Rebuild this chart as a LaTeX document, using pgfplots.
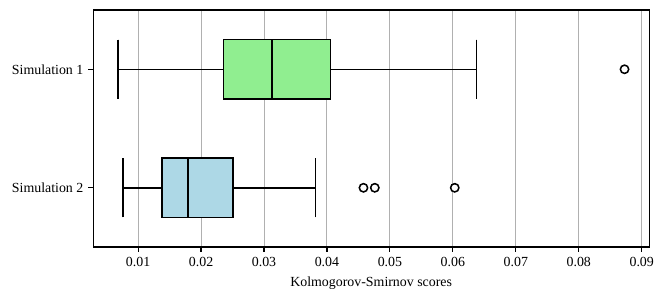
\documentclass[border=0pt]{standalone}
\usepackage{fontspec}
\setmainfont{Liberation Serif}
\usepackage{pgfplots}
\pgfplotsset{compat=1.18}
\usepgfplotslibrary{statistics}
\definecolor{lgreen}{HTML}{90EE90}
\definecolor{lblue}{HTML}{ADD8E6}
\definecolor{gridgray}{HTML}{B0B0B0}
\begin{document}
\begin{tikzpicture}
\begin{axis}[
  at={(0,0)}, anchor=south west,
  scale only axis,
  width=400.3pt, height=170.6pt,
  xmin=0.00285, xmax=0.0912,
  ymin=0.5, ymax=2.5, y dir=reverse,
  ytick={1,2}, yticklabels={Simulation 1, Simulation 2},
  xtick={0.01,0.02,0.03,0.04,0.05,0.06,0.07,0.08,0.09},
  scaled x ticks=false,
  xticklabel style={/pgf/number format/.cd, fixed, fixed zerofill, precision=2},
  /pgf/number format/assume math mode=true,
  xmajorgrids, grid style={gridgray, line width=0.7pt},
  tick align=outside, major tick length=3.5pt,
  xtick pos=bottom, ytick pos=left,
  tick style={black, line width=0.8pt},
  axis line style={line width=0.8pt},
  xlabel={Kolmogorov-Smirnov scores},
  xlabel style={yshift=-1pt},
  font=\fontsize{10pt}{12pt}\selectfont,
  boxplot/box extend=0.5,
  boxplot/whisker extend=0.5,
  boxplot/draw direction=x,
]
\addplot[boxplot prepared={lower whisker=0.00682, lower quartile=0.02358, median=0.03126, upper quartile=0.04053, upper whisker=0.06374, draw position=1,
    every whisker/.style={line width=1.1pt, black},
    every box/.style={line width=1.1pt, draw=black, fill=lgreen},
    every median/.style={line width=1.1pt, black}},
  draw=black, line width=1.1pt, fill=lgreen,
  mark=*, mark size=3pt, mark options={draw=black, fill=white, line width=1.1pt}]
  table[row sep=\\, y index=0] {0.08727\\};
\addplot[boxplot prepared={lower whisker=0.00757, lower quartile=0.01382, median=0.0179, upper quartile=0.02506, upper whisker=0.0382, draw position=2,
    every whisker/.style={line width=1.1pt, black},
    every box/.style={line width=1.1pt, draw=black, fill=lblue},
    every median/.style={line width=1.1pt, black}},
  draw=black, line width=1.1pt, fill=lblue,
  mark=*, mark size=3pt, mark options={draw=black, fill=white, line width=1.1pt}]
  table[row sep=\\, y index=0] {0.0458\\ 0.0476\\ 0.0603\\};
\end{axis}
\pgfresetboundingbox
\useasboundingbox (-67pt,-37.2pt) rectangle (410.9pt,177.8pt);
\end{tikzpicture}
\end{document}
